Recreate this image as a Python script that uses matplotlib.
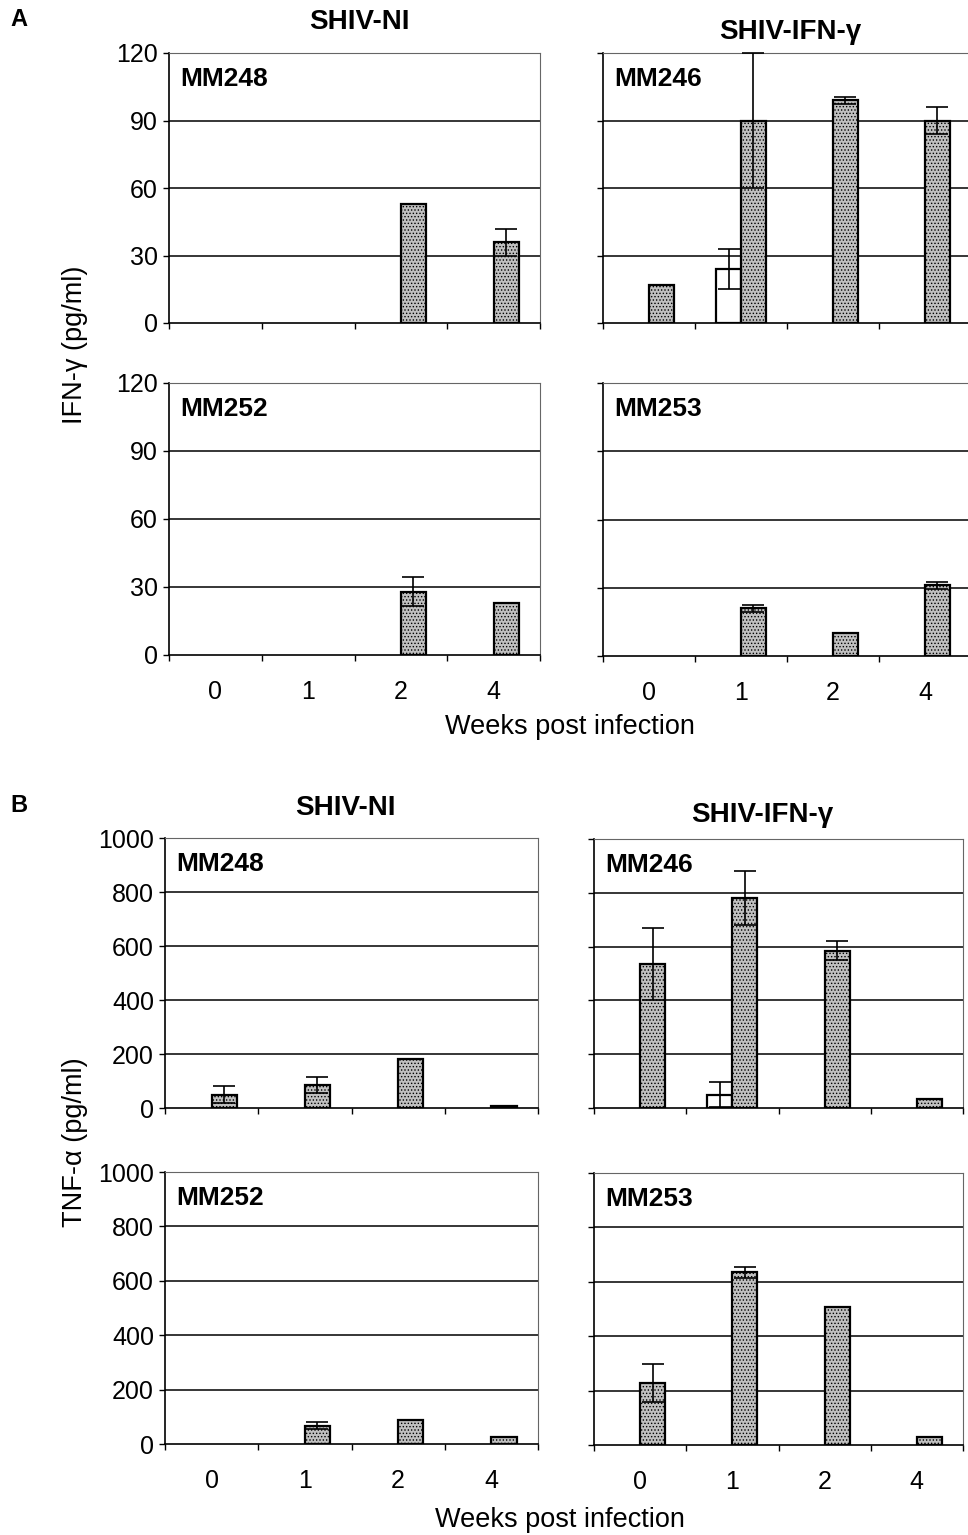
import matplotlib
matplotlib.use("Agg")
import matplotlib.pyplot as plt
import numpy as np

plt.rcParams['font.family'] = ['Liberation Sans', 'DejaVu Sans']
plt.rcParams['hatch.linewidth'] = 0.6

# ---------------- data ----------------
weeks = ['0', '1', '2', '4']
ifn_ticks = [0, 30, 60, 90, 120]
tnf_ticks = [0, 200, 400, 600, 800, 1000]

# Panel A: IFN-gamma (pg/ml); open = white bars, filled = stippled bars
ifn_mm248_open = [0, 0, 0, 0]
ifn_mm248_open_err = [0, 0, 0, 0]
ifn_mm248_filled = [0, 0, 53, 36]
ifn_mm248_filled_err = [0, 0, 0, 6]

ifn_mm246_open = [0, 24, 0, 0]
ifn_mm246_open_err = [0, 9, 0, 0]
ifn_mm246_filled = [17, 90, 99, 90]
ifn_mm246_filled_err = [0, 30, 1.5, 6]

ifn_mm252_open = [0, 0, 0, 0]
ifn_mm252_open_err = [0, 0, 0, 0]
ifn_mm252_filled = [0, 0, 28, 23]
ifn_mm252_filled_err = [0, 0, 6.5, 0]

ifn_mm253_open = [0, 0, 0, 0]
ifn_mm253_open_err = [0, 0, 0, 0]
ifn_mm253_filled = [0, 21, 10, 31]
ifn_mm253_filled_err = [0, 1.5, 0, 1.7]

# Panel B: TNF-alpha (pg/ml)
tnf_mm248_open = [0, 0, 0, 0]
tnf_mm248_open_err = [0, 0, 0, 0]
tnf_mm248_filled = [50, 85, 181, 9]
tnf_mm248_filled_err = [33, 28, 0, 0]

tnf_mm246_open = [0, 50, 0, 0]
tnf_mm246_open_err = [0, 47, 0, 0]
tnf_mm246_filled = [535, 780, 585, 32]
tnf_mm246_filled_err = [133, 100, 36, 0]

tnf_mm252_open = [0, 0, 0, 0]
tnf_mm252_open_err = [0, 0, 0, 0]
tnf_mm252_filled = [0, 67, 87, 24]
tnf_mm252_filled_err = [0, 13, 0, 0]

tnf_mm253_open = [0, 0, 0, 0]
tnf_mm253_open_err = [0, 0, 0, 0]
tnf_mm253_filled = [228, 635, 508, 30]
tnf_mm253_filled_err = [70, 20, 0, 0]

# ---------------- figure ----------------
W, H = 968, 1535
fig = plt.figure(figsize=(W / 100, H / 100), dpi=100)


def px_axes(x0, y0, x1, y1):
    return fig.add_axes([x0 / W, 1 - y1 / H, (x1 - x0) / W, (y1 - y0) / H])


BW = 0.27
FILL = '#c0c0c0'
TICK_FS = 18
LABEL_FS = 19.5


def draw_panel(ax, name, ticks, open_v, open_e, fill_v, fill_e, ylabels, xlabels):
    x = np.arange(len(weeks))
    for xs, vals, errs, face, hatch in ((x - BW / 2, open_v, open_e, 'white', None),
                                        (x + BW / 2, fill_v, fill_e, FILL, '.....')):
        idx = [i for i, v in enumerate(vals) if v > 0]
        if idx:
            ax.bar([xs[i] for i in idx], [vals[i] for i in idx], width=BW,
                   color=face, edgecolor='black', linewidth=1.6, hatch=hatch,
                   zorder=3)
        eidx = [i for i, e in enumerate(errs) if e > 0]
        if eidx:
            ax.errorbar([xs[i] for i in eidx], [vals[i] for i in eidx],
                        yerr=[errs[i] for i in eidx], fmt='none', ecolor='black',
                        elinewidth=1.2, capsize=8, capthick=1.2, zorder=4,
                        clip_on=False)
    ax.set_xlim(-0.5, len(weeks) - 0.5)
    ax.set_ylim(ticks[0], ticks[-1])
    ax.set_yticks(ticks)
    for t in ticks[1:-1]:
        ax.axhline(t, color='black', linewidth=1.1, zorder=1)
    ax.set_xticks(x)
    ax.set_xticks(np.arange(len(weeks) + 1) - 0.5, minor=True)
    ax.tick_params(axis='x', which='major', length=0, pad=18, labelsize=TICK_FS)
    ax.tick_params(axis='x', which='minor', length=4, direction='out', width=1)
    ax.tick_params(axis='y', length=4, direction='out', width=1, pad=4,
                   labelsize=TICK_FS)
    if xlabels:
        ax.set_xticklabels(weeks)
    else:
        ax.set_xticklabels([])
    if not ylabels:
        ax.set_yticklabels([])
    for s in ('top', 'right'):
        ax.spines[s].set_color('#666666')
        ax.spines[s].set_linewidth(0.8)
    for s in ('left', 'bottom'):
        ax.spines[s].set_color('black')
        ax.spines[s].set_linewidth(1.2)
    ax.text(0.03, 0.905, name, transform=ax.transAxes, fontsize=19,
            fontweight='bold', ha='left', va='center', zorder=5)


# Panel A
axA1 = px_axes(169, 53, 540, 323)
axA2 = px_axes(603, 53, 971, 323)
axA3 = px_axes(169, 383, 540, 655)
axA4 = px_axes(603, 383, 971, 656)
draw_panel(axA1, 'MM248', ifn_ticks, ifn_mm248_open, ifn_mm248_open_err,
           ifn_mm248_filled, ifn_mm248_filled_err, True, False)
draw_panel(axA2, 'MM246', ifn_ticks, ifn_mm246_open, ifn_mm246_open_err,
           ifn_mm246_filled, ifn_mm246_filled_err, False, False)
draw_panel(axA3, 'MM252', ifn_ticks, ifn_mm252_open, ifn_mm252_open_err,
           ifn_mm252_filled, ifn_mm252_filled_err, True, True)
draw_panel(axA4, 'MM253', ifn_ticks, ifn_mm253_open, ifn_mm253_open_err,
           ifn_mm253_filled, ifn_mm253_filled_err, False, True)

# Panel B
axB1 = px_axes(165, 838, 538, 1108)
axB2 = px_axes(594, 839, 963, 1108)
axB3 = px_axes(165, 1172, 538, 1444)
axB4 = px_axes(594, 1173, 963, 1445)
draw_panel(axB1, 'MM248', tnf_ticks, tnf_mm248_open, tnf_mm248_open_err,
           tnf_mm248_filled, tnf_mm248_filled_err, True, False)
draw_panel(axB2, 'MM246', tnf_ticks, tnf_mm246_open, tnf_mm246_open_err,
           tnf_mm246_filled, tnf_mm246_filled_err, False, False)
draw_panel(axB3, 'MM252', tnf_ticks, tnf_mm252_open, tnf_mm252_open_err,
           tnf_mm252_filled, tnf_mm252_filled_err, True, True)
draw_panel(axB4, 'MM253', tnf_ticks, tnf_mm253_open, tnf_mm253_open_err,
           tnf_mm253_filled, tnf_mm253_filled_err, False, True)


def ftext(xp, yp, s, **kw):
    fig.text(xp / W, 1 - yp / H, s, **kw)


ftext(19, 20, 'A', fontsize=17, fontweight='bold', ha='center', va='center')
ftext(19, 805, 'B', fontsize=17, fontweight='bold', ha='center', va='center')
ftext(359, 22, 'SHIV-NI', fontsize=20, fontweight='bold', ha='center', va='center')
ftext(790, 32, 'SHIV-IFN-γ', fontsize=20, fontweight='bold', ha='center', va='center')
ftext(345, 808, 'SHIV-NI', fontsize=20, fontweight='bold', ha='center', va='center')
ftext(762, 815, 'SHIV-IFN-γ', fontsize=20, fontweight='bold', ha='center', va='center')
ftext(75, 345, 'IFN-γ (pg/ml)', fontsize=LABEL_FS, rotation=90, ha='center', va='center')
ftext(75, 1142, 'TNF-α (pg/ml)', fontsize=LABEL_FS, rotation=90, ha='center', va='center')
ftext(570, 727, 'Weeks post infection', fontsize=LABEL_FS, ha='center', va='center')
ftext(560, 1520, 'Weeks post infection', fontsize=LABEL_FS, ha='center', va='center')

fig.savefig('out.png', dpi=100)
